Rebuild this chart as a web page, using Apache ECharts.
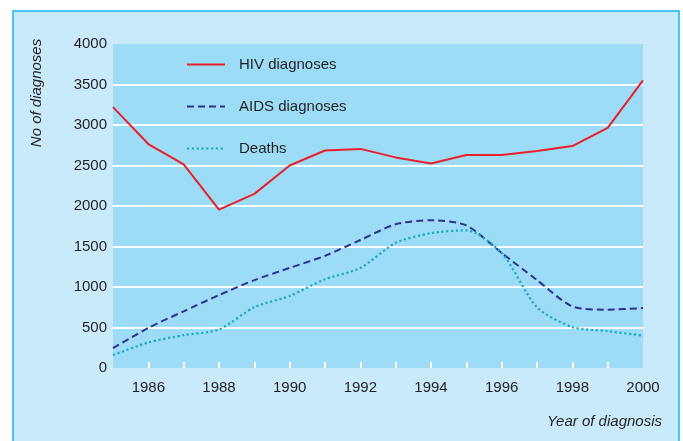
<!DOCTYPE html>
<html>
<head>
<meta charset="utf-8">
<script src="https://cdn.jsdelivr.net/npm/echarts@6/dist/echarts.min.js"></script>
<style>
  html, body { margin: 0; padding: 0; background: #ffffff; }
  #chart { width: 683px; height: 441px; }
</style>
</head>
<body>
<div id="chart"></div>
<script>
// Annual HIV diagnoses, AIDS diagnoses and deaths, 1985-2000
const years = ['1985','1986','1987','1988','1989','1990','1991','1992',
               '1993','1994','1995','1996','1997','1998','1999','2000'];
const hivDiagnoses  = [3220, 2765, 2515, 1955, 2150, 2500, 2685, 2705,
                       2600, 2525, 2630, 2630, 2680, 2740, 2965, 3550];
const aidsDiagnoses = [245, 495, 700, 900, 1085, 1235, 1385, 1580,
                       1775, 1825, 1760, 1420, 1085, 760, 720, 740];
const deaths        = [160, 315, 405, 475, 750, 890, 1095, 1235,
                       1545, 1665, 1700, 1420, 750, 505, 455, 400];
const yTicks = [0, 500, 1000, 1500, 2000, 2500, 3000, 3500, 4000];

const FONT = '"Liberation Sans", Arial, sans-serif';
const INK = '#231f20';

const chart = echarts.init(document.getElementById('chart'), null, { renderer: 'canvas' });

chart.setOption({
  animation: false,
  backgroundColor: '#ffffff',
  textStyle: { fontFamily: FONT, color: INK },
  graphic: [
    {
      type: 'rect', z: -10, silent: true,
      shape: { x: 13, y: 11, width: 666, height: 460 },
      style: { fill: '#c8eafb', stroke: '#1ab2ec', lineWidth: 1.5 }
    },
    {
      type: 'text', silent: true,
      x: 37, y: 93, rotation: Math.PI / 2,
      style: {
        text: 'No of diagnoses', fill: INK,
        font: 'italic 15px ' + FONT,
        align: 'center', verticalAlign: 'middle'
      }
    },
    {
      type: 'text', silent: true,
      x: 662, y: 422,
      style: {
        text: 'Year of diagnosis', fill: INK,
        font: 'italic 15px ' + FONT,
        align: 'right', verticalAlign: 'middle'
      }
    }
  ],
  grid: {
    left: 113, top: 44, right: 40, bottom: 73,
    show: true, backgroundColor: '#9ddcf7', borderWidth: 0
  },
  legend: {
    orient: 'vertical',
    left: 186, top: 57, padding: 0,
    itemWidth: 38, itemHeight: 14, itemGap: 27,
    itemStyle: { color: 'transparent', borderWidth: 0 },
    textStyle: { fontFamily: FONT, fontSize: 15, color: INK, padding: [0, 0, 0, 9] },
    data: ['HIV diagnoses', 'AIDS diagnoses', 'Deaths']
  },
  xAxis: {
    type: 'category',
    data: years,
    boundaryGap: false,
    axisLine: { show: false },
    axisTick: {
      show: true, inside: true, length: 6,
      interval: (i) => i > 0 && i < years.length - 1,
      lineStyle: { color: '#ffffff', width: 2 }
    },
    axisLabel: {
      interval: (i, v) => Number(v) % 2 === 0,
      fontFamily: FONT, fontSize: 15, color: INK, margin: 12
    },
    splitLine: { show: false }
  },
  yAxis: {
    type: 'value',
    min: yTicks[0], max: yTicks[yTicks.length - 1], interval: 500,
    axisLine: { show: false },
    axisTick: { show: false },
    axisLabel: {
      fontFamily: FONT, fontSize: 15, color: INK, margin: 6,
      formatter: (v) => String(v)
    },
    splitLine: {
      show: true, showMinLine: false, showMaxLine: false,
      lineStyle: { color: '#ffffff', width: 2 }
    }
  },
  series: [
    {
      name: 'HIV diagnoses', type: 'line', data: hivDiagnoses,
      symbol: 'none', color: '#e8202a',
      lineStyle: { color: '#e8202a', width: 2 }
    },
    {
      name: 'AIDS diagnoses', type: 'line', data: aidsDiagnoses,
      symbol: 'none', smooth: 0.25, color: '#2e3192',
      lineStyle: { color: '#2e3192', width: 2, type: [7, 4] }
    },
    {
      name: 'Deaths', type: 'line', data: deaths,
      symbol: 'none', smooth: 0.25, color: '#17a9c6',
      lineStyle: { color: '#17a9c6', width: 2.2, type: [2.2, 2.6] }
    }
  ]
});
</script>
</body>
</html>
